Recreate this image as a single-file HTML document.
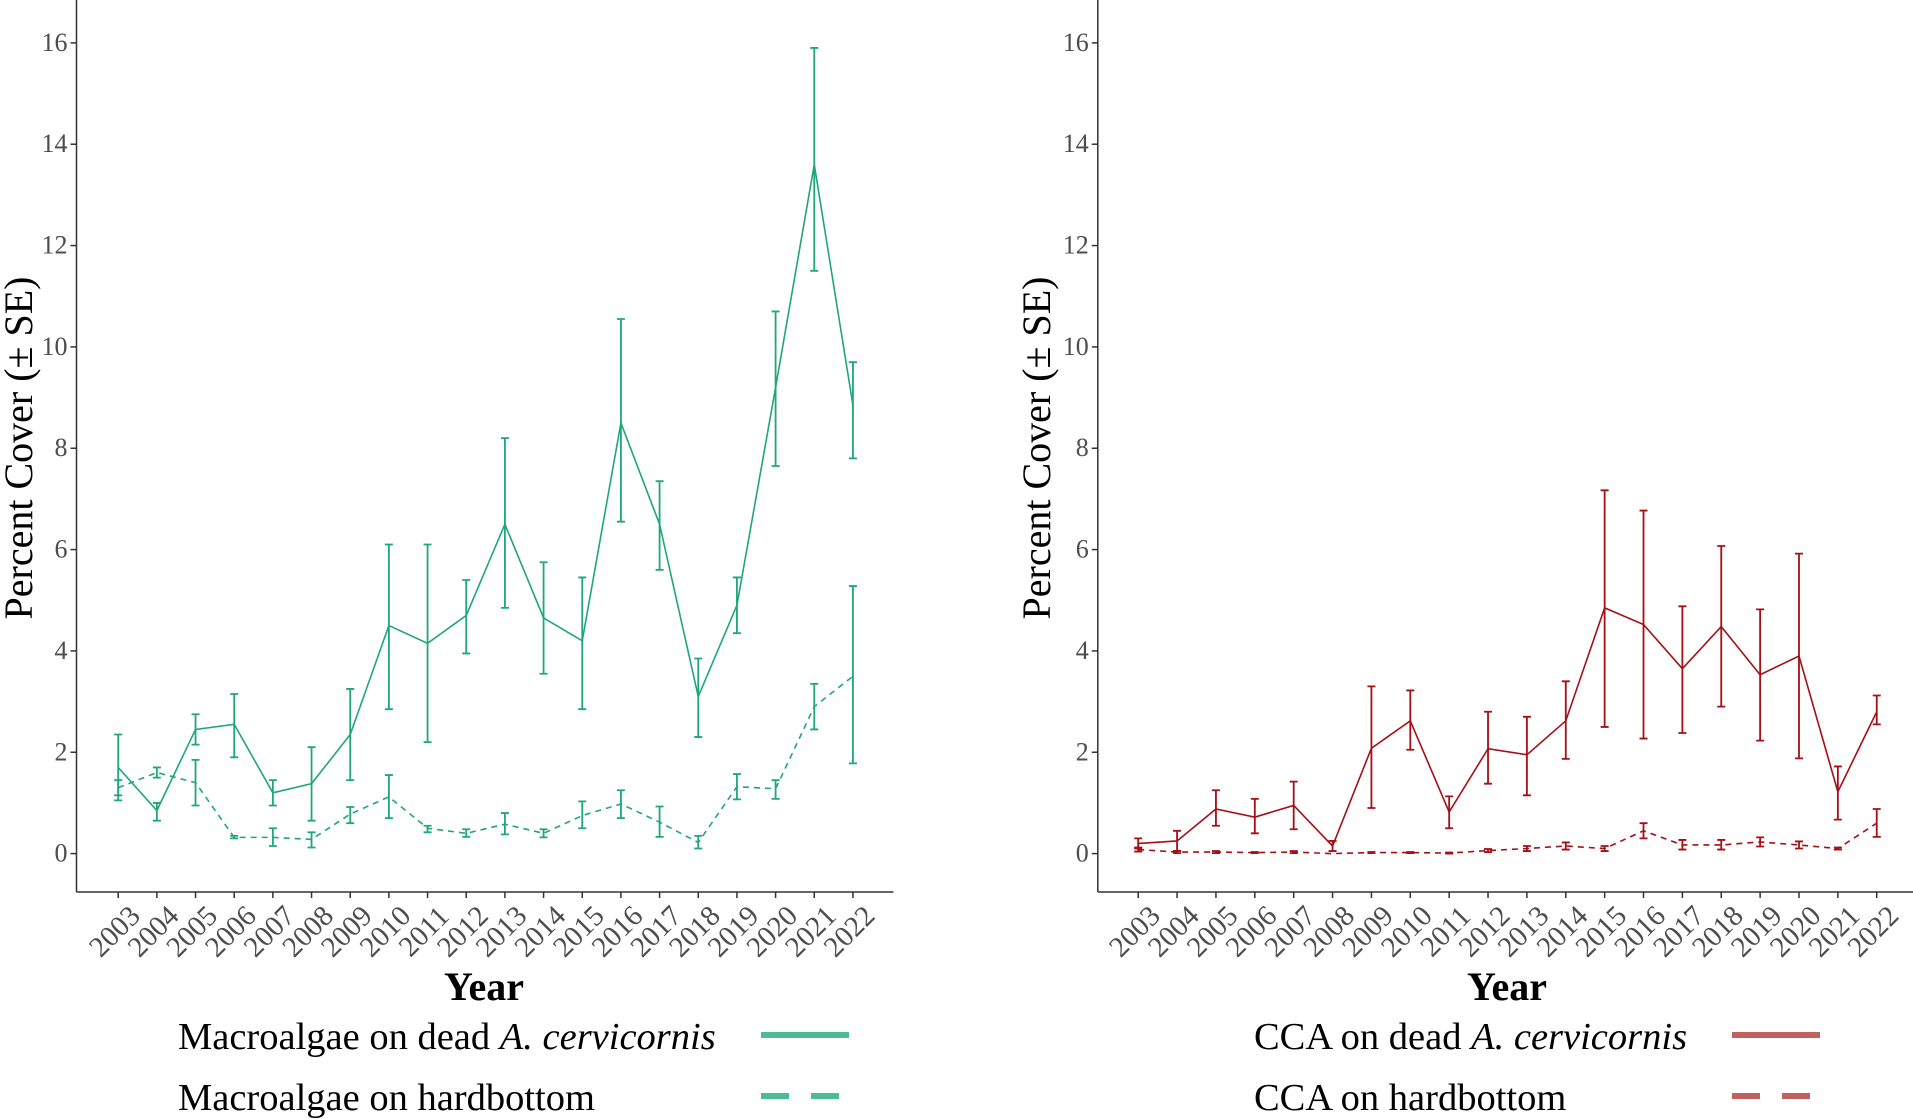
<!DOCTYPE html>
<html><head><meta charset="utf-8"><style>body{margin:0;background:#fff}svg{display:block}</style></head>
<body>
<svg id="s" width="1913" height="1119" xmlns="http://www.w3.org/2000/svg" font-family="Liberation Serif, serif"></svg>
<script>
const s=document.getElementById('s');let h='';
const Y0=853.6,PU=50.67;const y=v=>Y0-v*PU;
function panel(ax,x0,step,solid,dash,col,ylx,yearx,leg1a,leg2,legx,lcol,lineX){
 h+=`<line x1="${ax}" y1="0" x2="${ax}" y2="892" stroke="#333" stroke-width="1.5"/>`;
 h+=`<line x1="${ax}" y1="892" x2="${ax+817}" y2="892" stroke="#333" stroke-width="1.5"/>`;
 for(let v=0;v<=16;v+=2){h+=`<line x1="${ax-6}" x2="${ax}" y1="${y(v)}" y2="${y(v)}" stroke="#333" stroke-width="1.5"/><text x="${ax-9}" y="${y(v)+8}" font-size="26" fill="#4d4d4d" text-anchor="end">${v}</text>`;}
 for(let i=0;i<20;i++){const x=x0+i*step;h+=`<line x1="${x}" x2="${x}" y1="892" y2="898" stroke="#333" stroke-width="1.5"/><text transform="translate(${x+3},${938}) rotate(-45)" font-size="29" fill="#4d4d4d" text-anchor="middle">${2003+i}</text>`;}
 const draw=(d,dashed)=>{let p=d.map((e,i)=>(x0+i*step)+','+y(e[0])).join(' ');
  h+=`<polyline points="${p}" fill="none" stroke="${col}" stroke-width="1.6" ${dashed?'stroke-dasharray="6,5"':''}/>`;
  d.forEach((e,i)=>{if(e.length<3)return;const x=x0+i*step;h+=`<path d="M${x},${y(e[1])}V${y(e[2])}M${x-4},${y(e[1])}H${x+4}M${x-4},${y(e[2])}H${x+4}" stroke="${col}" stroke-width="1.8" fill="none"/>`;});};
 draw(solid,false);draw(dash,true);
 h+=`<text transform="translate(${ylx},448) rotate(-90)" font-size="40" text-anchor="middle">Percent Cover (± SE)</text>`;
 h+=`<text x="${yearx}" y="1000" font-size="40" font-weight="bold" text-anchor="middle">Year</text>`;
 h+=`<text x="${legx}" y="1049" font-size="38.5">${leg1a} <tspan font-style="italic">A. cervicornis</tspan></text>`;
 h+=`<text x="${legx}" y="1110" font-size="38.5">${leg2}</text>`;
 h+=`<line x1="${lineX}" x2="${lineX+88}" y1="1035" y2="1035" stroke="${lcol}" stroke-width="6"/>`;
 h+=`<line x1="${lineX}" x2="${lineX+88}" y1="1096" y2="1096" stroke="${lcol}" stroke-width="6" stroke-dasharray="28,22"/>`;
}
const gs=[[1.7,1.05,2.35],[0.85,0.65,1.0],[2.45,2.15,2.75],[2.55,1.9,3.15],[1.2,0.95,1.45],[1.38,0.65,2.1],[2.35,1.45,3.25],[4.5,2.85,6.1],[4.15,2.2,6.1],[4.7,3.95,5.4],[6.5,4.85,8.2],[4.65,3.55,5.75],[4.2,2.85,5.45],[8.5,6.55,10.55],[6.5,5.6,7.35],[3.1,2.3,3.85],[4.9,4.35,5.45],[9.2,7.65,10.7],[13.6,11.5,15.9],[8.85,7.8,9.7]];
const gd=[[1.3,1.15,1.45],[1.6,1.5,1.7],[1.4,0.95,1.85],[0.32,0.3,0.35],[0.32,0.15,0.5],[0.28,0.12,0.42],[0.78,0.6,0.92],[1.12,0.7,1.55],[0.5,0.42,0.55],[0.4,0.33,0.48],[0.58,0.38,0.8],[0.4,0.32,0.48],[0.75,0.5,1.03],[0.98,0.7,1.25],[0.62,0.33,0.93],[0.22,0.1,0.35],[1.32,1.07,1.57],[1.28,1.08,1.45],[2.9,2.45,3.35],[3.5,1.78,5.28]];
const rs=[[0.2,0.1,0.3],[0.25,0.05,0.45],[0.88,0.55,1.25],[0.72,0.4,1.08],[0.95,0.48,1.42],[0.15,0.05,0.25],[2.08,0.9,3.3],[2.62,2.05,3.22],[0.82,0.5,1.13],[2.07,1.38,2.8],[1.95,1.15,2.7],[2.62,1.87,3.4],[4.85,2.5,7.17],[4.52,2.27,6.77],[3.65,2.38,4.88],[4.48,2.9,6.07],[3.53,2.23,4.82],[3.9,1.88,5.92],[1.22,0.67,1.72],[2.8,2.55,3.12]];
const rd=[[0.08,0.04,0.12],[0.03,0.01,0.05],[0.03,0.01,0.05],[0.02,0.01,0.03],[0.03,0.01,0.05],[0.0],[0.02,0.01,0.03],[0.02,0.01,0.03],[0.01,0.0,0.02],[0.06,0.03,0.09],[0.1,0.05,0.15],[0.15,0.08,0.22],[0.1,0.05,0.15],[0.45,0.3,0.6],[0.17,0.08,0.27],[0.17,0.08,0.27],[0.23,0.14,0.32],[0.17,0.1,0.24],[0.1,0.08,0.12],[0.6,0.33,0.88]];
panel(76.5,118.2,38.67,gs,gd,'#1fa67a',32,484,'Macroalgae on dead','Macroalgae on hardbottom',178,'#4dbb96',761);
panel(1097.8,1138.2,38.87,rs,rd,'#a50f15',1050,1507,'CCA on dead','CCA on hardbottom',1254,'#c0605f',1732);
s.innerHTML=h;
</script>
</body></html>
